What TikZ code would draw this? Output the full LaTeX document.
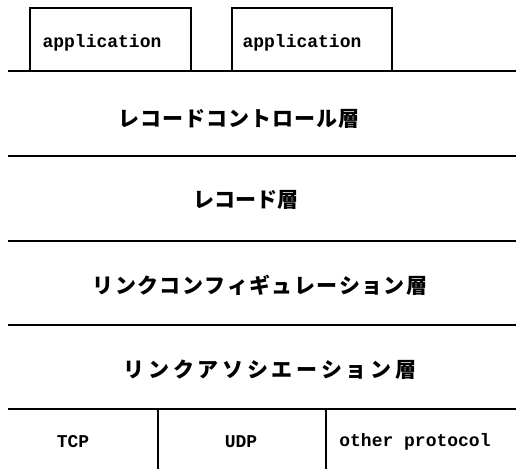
\documentclass[tikz,border=0pt]{standalone}
\usepackage{fontspec}
\setmonofont{Liberation Mono}
\newfontfamily\jp{Noto Sans CJK JP}
\makeatletter
\newcommand\spacedtext[2]{\def\my@spc{#1}\my@sloop#2\relax}
\def\my@sloop#1{#1\futurelet\my@next\my@scheck}
\def\my@scheck{\ifx\my@next\relax\expandafter\my@send\else\hspace{\my@spc}\expandafter\my@sloop\fi}
\def\my@send\relax{}
\makeatother
\tikzset{
  layerline/.style={line width=2.4pt},
  appbox/.style={draw, line width=1.5pt, inner sep=0pt},
  mono/.style={font=\fontsize{18}{20}\selectfont\ttfamily\bfseries, inner sep=0pt},
  layertxt/.style={font=\fontsize{21}{24}\selectfont\jp\bfseries, inner sep=0pt},
  divider/.style={line width=1.8pt}
}
\begin{document}
\begin{tikzpicture}[x=1pt,y=-1pt]
\useasboundingbox (0,0) rectangle (516,469);
% application boxes
\draw[appbox] (30,71) -- (30,8) -- (191,8) -- (191,71);
\draw[appbox] (232,71) -- (232,8) -- (392,8) -- (392,71);
\node[mono] (app1) at (102,43) {application};
\node[mono] (app2) at (302,43) {application};
% layer lines
\coordinate (l0a) at (8,71);  \coordinate (l0b) at (516,71);
\coordinate (l1a) at (8,156); \coordinate (l1b) at (516,156);
\coordinate (l2a) at (8,241); \coordinate (l2b) at (516,241);
\coordinate (l3a) at (8,325); \coordinate (l3b) at (516,325);
\coordinate (l4a) at (8,409); \coordinate (l4b) at (516,409);
\draw[layerline] (l0a) -- (l0b);
\draw[layerline] (l1a) -- (l1b);
\draw[layerline] (l2a) -- (l2b);
\draw[layerline] (l3a) -- (l3b);
\draw[layerline] (l4a) -- (l4b);
% layer names
\node[layertxt] (rc) at (239,119) {\spacedtext{1.1pt}{レコードコントロール層}};
\node[layertxt] (rec) at (246,200) {\spacedtext{0pt}{レコード層}};
\node[layertxt] (lc) at (260,285) {\spacedtext{1.4pt}{リンクコンフィギュレーション層}};
\node[layertxt] (la) at (270,370) {\spacedtext{3.7pt}{リンクアソシエーション層}};
% bottom protocols
\coordinate (d1a) at (158,409); \coordinate (d1b) at (158,469);
\coordinate (d2a) at (326,409); \coordinate (d2b) at (326,469);
\draw[divider] (d1a) -- (d1b);
\draw[divider] (d2a) -- (d2b);
\node[mono] (tcp) at (73,442) {TCP};
\node[mono] (udp) at (241,442) {UDP};
\node[mono] (other) at (415,442) {other protocol};
\end{tikzpicture}
\end{document}
